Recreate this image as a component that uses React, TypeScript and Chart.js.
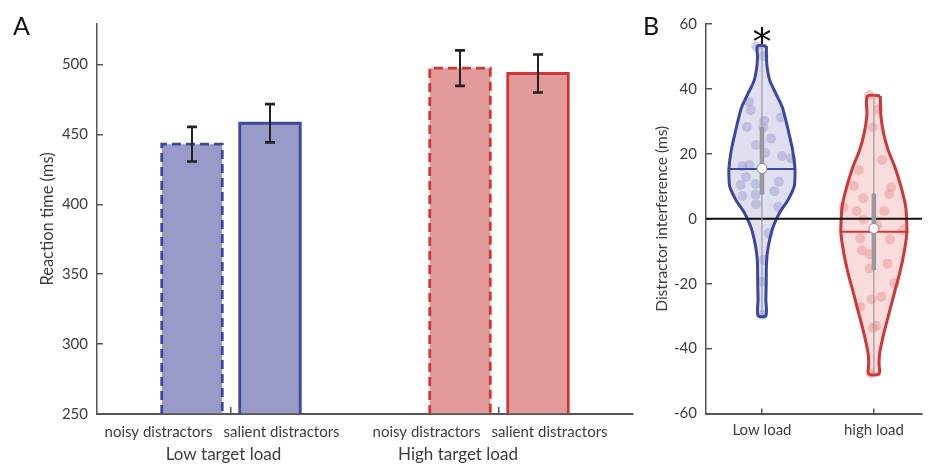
import React, { useEffect, useRef } from 'react';
import { Chart, registerables } from 'chart.js';

Chart.register(...registerables);

const FONT = 'Lato, "Open Sans", sans-serif';
const TEXT = '#3d3d3d';
const AXIS = '#555555';

// ---------- Panel A data ----------
const groupLabels = ['Low target load', 'High target load'];
const groupLabelOffsets = [-0.028, -0.153]; // label centre relative to category index
const conditionLabels = ['noisy distractors', 'salient distractors'];
const noisyRT = [443, 497.4];
const salientRT = [458, 493.6];
const noisySEM = [12.4, 12.7];
const salientSEM = [13.7, 13.6];
const rtTicks = [250, 300, 350, 400, 450, 500];
const rtMin = 250;
const rtMax = 529;

// ---------- Panel B data ----------
const loadLabels = ['Low load', 'high load'];
const interferenceTicks = [-60, -40, -20, 0, 20, 40, 60];
const lowLoadValues = [53.1, 50.1, 36.0, 33.4, 30.2, 31.2, 28.3, 28.1, 24.7, 22.7, 20.3, 19.3, 18.6, 16.2, 16.5, 12.9, 10.4, 10.7, 11.4, 7.0, 7.5, 8.5, 4.5, 3.7, -4.5, -12.7, -19.4, -29.6];
const lowLoadJitter = [-0.052, 0.015, -0.116, -0.1, 0.02, 0.168, -0.136, 0.009, 0.081, -0.052, 0.029, 0.18, 0.26, -0.174, -0.11, -0.143, -0.19, -0.057, 0.151, -0.174, -0.057, 0.11, -0.052, 0.145, 0.058, 0.015, -0.005, 0.006];
const highLoadValues = [38.1, 33.7, 28.1, 18.1, 15.0, 10.1, 9.7, 7.6, 6.3, 3.5, 2.4, 2.4, -0.2, -1.9, -3.5, -6.0, -6.3, -9.8, -10.9, -15.3, -13.9, -19.9, -24.8, -24.0, -27.1, -33.7, -33.0, -47.6];
const highLoadJitter = [-0.043, 0.038, -0.009, 0.073, -0.136, -0.179, 0.154, 0.137, -0.096, -0.27, -0.153, 0.093, -0.092, 0.03, 0.261, -0.122, 0.145, -0.107, -0.037, -0.037, 0.122, 0.183, -0.02, 0.067, -0.122, -0.009, 0.023, -0.029];

const lowProfileLevels = [53.2, 50, 46.8, 42.7, 38.6, 34.5, 30.4, 26.3, 21.1, 15.5, 12, 9.8, 5.8, 1.7, -2.5, -6.6, -10.5, -14, -20, -25, -29.8];
const lowProfileHalfWidth = [0.040, 0.040, 0.046, 0.069, 0.124, 0.180, 0.213, 0.241, 0.274, 0.295, 0.294, 0.287, 0.233, 0.155, 0.100, 0.068, 0.048, 0.040, 0.038, 0.035, 0.035];
const highProfileLevels = [37.8, 32, 26.3, 21.1, 16, 9.8, 3.7, -2.5, -4.5, -10.6, -16.8, -23, -29.1, -35.3, -41.4, -44.5, -47.8];
const highProfileHalfWidth = [0.058, 0.062, 0.087, 0.128, 0.187, 0.243, 0.284, 0.295, 0.295, 0.269, 0.230, 0.182, 0.136, 0.089, 0.052, 0.046, 0.046];

const lowMedian = 15.3;
const lowMean = 15.5;
const lowQuartiles = [7.5, 28.3];
const highMedian = -4.0;
const highMean = -3.0;
const highQuartiles = [-15.8, 7.8];
const significantGroup = 0;
const significanceY = 56.5;

const xMinB = 0.5;
const xMaxB = 2.43;

const blue = { edge: '#3c47a0', fill: '#9a9ac9', light: '#dfdff0', dot: 'rgba(160,160,210,0.5)' };
const red = { edge: '#d03636', fill: '#e39a9a', light: '#f9dcdc', dot: 'rgba(236,150,150,0.5)' };

function halfWidthAt(levels: number[], hw: number[], v: number) {
  for (let i = 0; i < levels.length - 1; i++) {
    const a = levels[i], b = levels[i + 1];
    if (v <= a && v >= b) {
      const t = (a - v) / (a - b);
      return hw[i] + t * (hw[i + 1] - hw[i]);
    }
  }
  return hw[hw.length - 1];
}

function violinPath(center: number, levels: number[], hw: number[]) {
  const right = levels.map((v, i) => ({ x: center + hw[i], y: v }));
  const left = levels.map((v, i) => ({ x: center - hw[i], y: v })).reverse();
  return [...right, ...left, right[0]];
}

const barDecor = {
  id: 'barDecor',
  afterDatasetsDraw(chart: any) {
    const ctx = chart.ctx;
    const yS = chart.scales.y;
    const basePx = yS.getPixelForValue(rtMin);
    chart.data.datasets.forEach((ds: any, di: number) => {
      const meta = chart.getDatasetMeta(di);
      meta.data.forEach((bar: any, i: number) => {
        const { x, y, width } = bar.getProps(['x', 'y', 'width'], true);
        ctx.save();
        ctx.strokeStyle = ds.edgeColor[i];
        ctx.lineWidth = 2.8;
        ctx.setLineDash(ds.edgeDash);
        ctx.beginPath();
        ctx.moveTo(x - width / 2, basePx);
        ctx.lineTo(x - width / 2, y);
        ctx.lineTo(x + width / 2, y);
        ctx.lineTo(x + width / 2, basePx);
        ctx.stroke();
        const v = ds.data[i];
        const e = ds.sem[i];
        const yt = yS.getPixelForValue(v + e);
        const yb = yS.getPixelForValue(v - e);
        ctx.setLineDash([]);
        ctx.strokeStyle = '#222222';
        ctx.lineWidth = 2;
        ctx.beginPath();
        ctx.moveTo(x, yt);
        ctx.lineTo(x, yb);
        ctx.stroke();
        ctx.lineWidth = 2.6;
        ctx.beginPath();
        ctx.moveTo(x - 5, yt);
        ctx.lineTo(x + 5, yt);
        ctx.moveTo(x - 5, yb);
        ctx.lineTo(x + 5, yb);
        ctx.stroke();
        ctx.restore();
      });
    });
  },
  afterDraw(chart: any) {
    const ctx = chart.ctx;
    const xS = chart.scales.x;
    ctx.save();
    ctx.fillStyle = TEXT;
    ctx.textBaseline = 'middle';
    groupLabels.forEach((g, i) => {
      const p = xS.getPixelForValue(i);
      ctx.font = `15px ${FONT}`;
      ctx.textAlign = 'right';
      ctx.fillText(conditionLabels[0], p - 18.5, xS.top + 18);
      ctx.textAlign = 'left';
      ctx.fillText(conditionLabels[1], p - 7.5, xS.top + 18);
      ctx.font = `17px ${FONT}`;
      ctx.textAlign = 'center';
      ctx.fillText(g, xS.getPixelForValue(i + groupLabelOffsets[i]), xS.top + 41);
    });
    ctx.fillStyle = '#111111';
    ctx.font = `25px ${FONT}`;
    ctx.textAlign = 'left';
    ctx.textBaseline = 'alphabetic';
    ctx.fillText('A', 13, 35);
    ctx.restore();
  },
};

const violinDecor = {
  id: 'violinDecor',
  afterDraw(chart: any) {
    const ctx = chart.ctx;
    const xS = chart.scales.x;
    const yS = chart.scales.y;
    ctx.save();
    ctx.fillStyle = '#111111';
    ctx.font = `38px "DejaVu Sans"`;
    ctx.textAlign = 'center';
    ctx.textBaseline = 'alphabetic';
    const m = ctx.measureText('*');
    const cy = yS.getPixelForValue(significanceY);
    const baseline = cy + (m.actualBoundingBoxAscent - m.actualBoundingBoxDescent) / 2;
    ctx.fillText('*', xS.getPixelForValue(significantGroup + 1), baseline);
    ctx.font = `25px ${FONT}`;
    ctx.textAlign = 'left';
    ctx.fillText('B', 3, 35);
    ctx.restore();
  },
};

function tickFont(size = 15) {
  return { family: FONT, size };
}

export default function App() {
  const refA = useRef<HTMLCanvasElement>(null);
  const refB = useRef<HTMLCanvasElement>(null);

  useEffect(() => {
    const barDataset = (label: string, data: number[], sem: number[], dash: number[]) => ({
      label,
      data,
      base: rtMin,
      backgroundColor: [blue.fill, red.fill],
      borderWidth: 0,
      categoryPercentage: 0.582,
      barPercentage: 0.776,
      edgeColor: [blue.edge, red.edge],
      edgeDash: dash,
      sem,
    });

    const chartA = new Chart(refA.current as HTMLCanvasElement, {
      type: 'bar',
      data: {
        labels: groupLabels,
        datasets: [
          barDataset(conditionLabels[0], noisyRT, noisySEM, [9, 5]) as any,
          barDataset(conditionLabels[1], salientRT, salientSEM, []) as any,
        ],
      },
      options: {
        animation: false,
        responsive: false,
        devicePixelRatio: 1,
        layout: { padding: { left: 0, right: 17, top: 23, bottom: 0 } },
        plugins: { legend: { display: false }, tooltip: { enabled: false } },
        scales: {
          x: {
            type: 'category',
            offset: true,
            z: 1,
            grid: { display: true, offset: false, drawOnChartArea: false, drawTicks: true, tickLength: -7, color: AXIS, lineWidth: 1.5 },
            border: { display: true, color: AXIS, width: 2 },
            ticks: { display: false },
            afterFit: (s: any) => { s.height = 50; },
          },
          y: {
            type: 'linear',
            min: rtMin,
            max: rtMax,
            z: 1,
            afterBuildTicks: (s: any) => { s.ticks = rtTicks.map((v) => ({ value: v })); },
            grid: { display: true, drawOnChartArea: false, drawTicks: true, tickLength: -6, color: AXIS, lineWidth: 1.5 },
            border: { display: true, color: AXIS, width: 1.5 },
            ticks: { padding: 15, color: TEXT, font: tickFont(15) },
            title: { display: true, text: 'Reaction time (ms)', color: TEXT, font: tickFont(16.5), padding: { top: 37.5, bottom: 0 } },
            afterFit: (s: any) => { s.width = 97; },
          },
        },
      } as any,
      plugins: [barDecor],
    });

    const lowMedHW = halfWidthAt(lowProfileLevels, lowProfileHalfWidth, lowMedian);
    const highMedHW = halfWidthAt(highProfileLevels, highProfileHalfWidth, highMedian);
    const lowPath = violinPath(1, lowProfileLevels, lowProfileHalfWidth);
    const highPath = violinPath(2, highProfileLevels, highProfileHalfWidth);

    const lineDs = (data: any[], color: string, width: number, order: number, extra: any = {}) => ({
      data,
      showLine: true,
      borderColor: color,
      borderWidth: width,
      pointRadius: 0,
      fill: false,
      order,
      ...extra,
    });

    const chartB = new Chart(refB.current as HTMLCanvasElement, {
      type: 'scatter',
      data: {
        datasets: [
          // violin fills
          lineDs(lowPath, 'rgba(0,0,0,0)', 0, 20, { fill: 'shape', backgroundColor: blue.light, tension: 0.3 }),
          lineDs(highPath, 'rgba(0,0,0,0)', 0, 20, { fill: 'shape', backgroundColor: red.light, tension: 0.3 }),
          // individual points
          {
            data: lowLoadValues.map((v, i) => ({ x: 1 + lowLoadJitter[i], y: v })),
            pointRadius: 5,
            pointBackgroundColor: blue.dot,
            pointBorderWidth: 0,
            order: 18,
          },
          {
            data: highLoadValues.map((v, i) => ({ x: 2 + highLoadJitter[i], y: v })),
            pointRadius: 5,
            pointBackgroundColor: red.dot,
            pointBorderWidth: 0,
            order: 18,
          },
          // outlines
          lineDs(lowPath, blue.edge, 3, 16, { tension: 0.3 }),
          lineDs(highPath, red.edge, 3, 16, { tension: 0.3 }),
          // zero line
          lineDs([{ x: xMinB, y: 0 }, { x: xMaxB, y: 0 }], '#111111', 2, 14),
          // medians
          lineDs([{ x: 1 - lowMedHW, y: lowMedian }, { x: 1 + lowMedHW, y: lowMedian }], blue.edge, 2, 12),
          lineDs([{ x: 2 - highMedHW, y: highMedian }, { x: 2 + highMedHW, y: highMedian }], red.edge, 2, 12),
          // whiskers
          lineDs([{ x: 1, y: Math.max(...lowLoadValues) }, { x: 1, y: Math.min(...lowLoadValues) }], '#999999', 1.2, 10),
          lineDs([{ x: 2, y: Math.max(...highLoadValues) }, { x: 2, y: Math.min(...highLoadValues) }], '#999999', 1.2, 10),
          // interquartile boxes
          lineDs([{ x: 1, y: lowQuartiles[0] }, { x: 1, y: lowQuartiles[1] }], '#999999', 4.5, 8, { borderCapStyle: 'butt' }),
          lineDs([{ x: 2, y: highQuartiles[0] }, { x: 2, y: highQuartiles[1] }], '#999999', 4.5, 8, { borderCapStyle: 'butt' }),
          // means
          {
            data: [{ x: 1, y: lowMean }, { x: 2, y: highMean }],
            pointRadius: 5,
            pointBackgroundColor: '#ffffff',
            pointBorderColor: '#8a8a8a',
            pointBorderWidth: 1,
            order: 1,
          },
        ],
      },
      options: {
        animation: false,
        responsive: false,
        devicePixelRatio: 1,
        layout: { padding: { left: 0, right: 0, top: 23.5, bottom: 0 } },
        plugins: { legend: { display: false }, tooltip: { enabled: false } },
        scales: {
          x: {
            type: 'linear',
            min: xMinB,
            max: xMaxB,
            z: 1,
            afterBuildTicks: (s: any) => { s.ticks = loadLabels.map((_, i) => ({ value: i + 1 })); },
            grid: { display: true, drawOnChartArea: false, drawTicks: true, tickLength: -5, color: AXIS, lineWidth: 1.5 },
            border: { display: true, color: AXIS, width: 2 },
            ticks: { padding: 12.5, color: TEXT, font: tickFont(15), maxRotation: 0, callback: (_v: any, i: number) => loadLabels[i] },
            afterFit: (s: any) => { s.height = 50.5; },
          },
          y: {
            type: 'linear',
            min: interferenceTicks[0],
            max: interferenceTicks[interferenceTicks.length - 1],
            z: 1,
            afterBuildTicks: (s: any) => { s.ticks = interferenceTicks.map((v) => ({ value: v })); },
            grid: { display: true, drawOnChartArea: false, drawTicks: true, tickLength: -6, color: AXIS, lineWidth: 1.5 },
            border: { display: true, color: AXIS, width: 1.5 },
            ticks: { padding: 15, color: TEXT, font: tickFont(15) },
            title: { display: true, text: 'Distractor interference (ms)', color: TEXT, font: tickFont(15.5), padding: { top: 13, bottom: 0 } },
            afterFit: (s: any) => { s.width = 66; },
          },
        },
      } as any,
      plugins: [violinDecor],
    });

    return () => {
      chartA.destroy();
      chartB.destroy();
    };
  }, []);

  return (
    <div style={{ position: 'fixed', left: 0, top: 0, width: 928, height: 464, background: '#ffffff' }}>
      <canvas ref={refA} width={650} height={464} style={{ position: 'absolute', left: 0, top: 0, width: 650, height: 464 }} />
      <canvas ref={refB} width={288} height={464} style={{ position: 'absolute', left: 640, top: 0, width: 288, height: 464 }} />
    </div>
  );
}
